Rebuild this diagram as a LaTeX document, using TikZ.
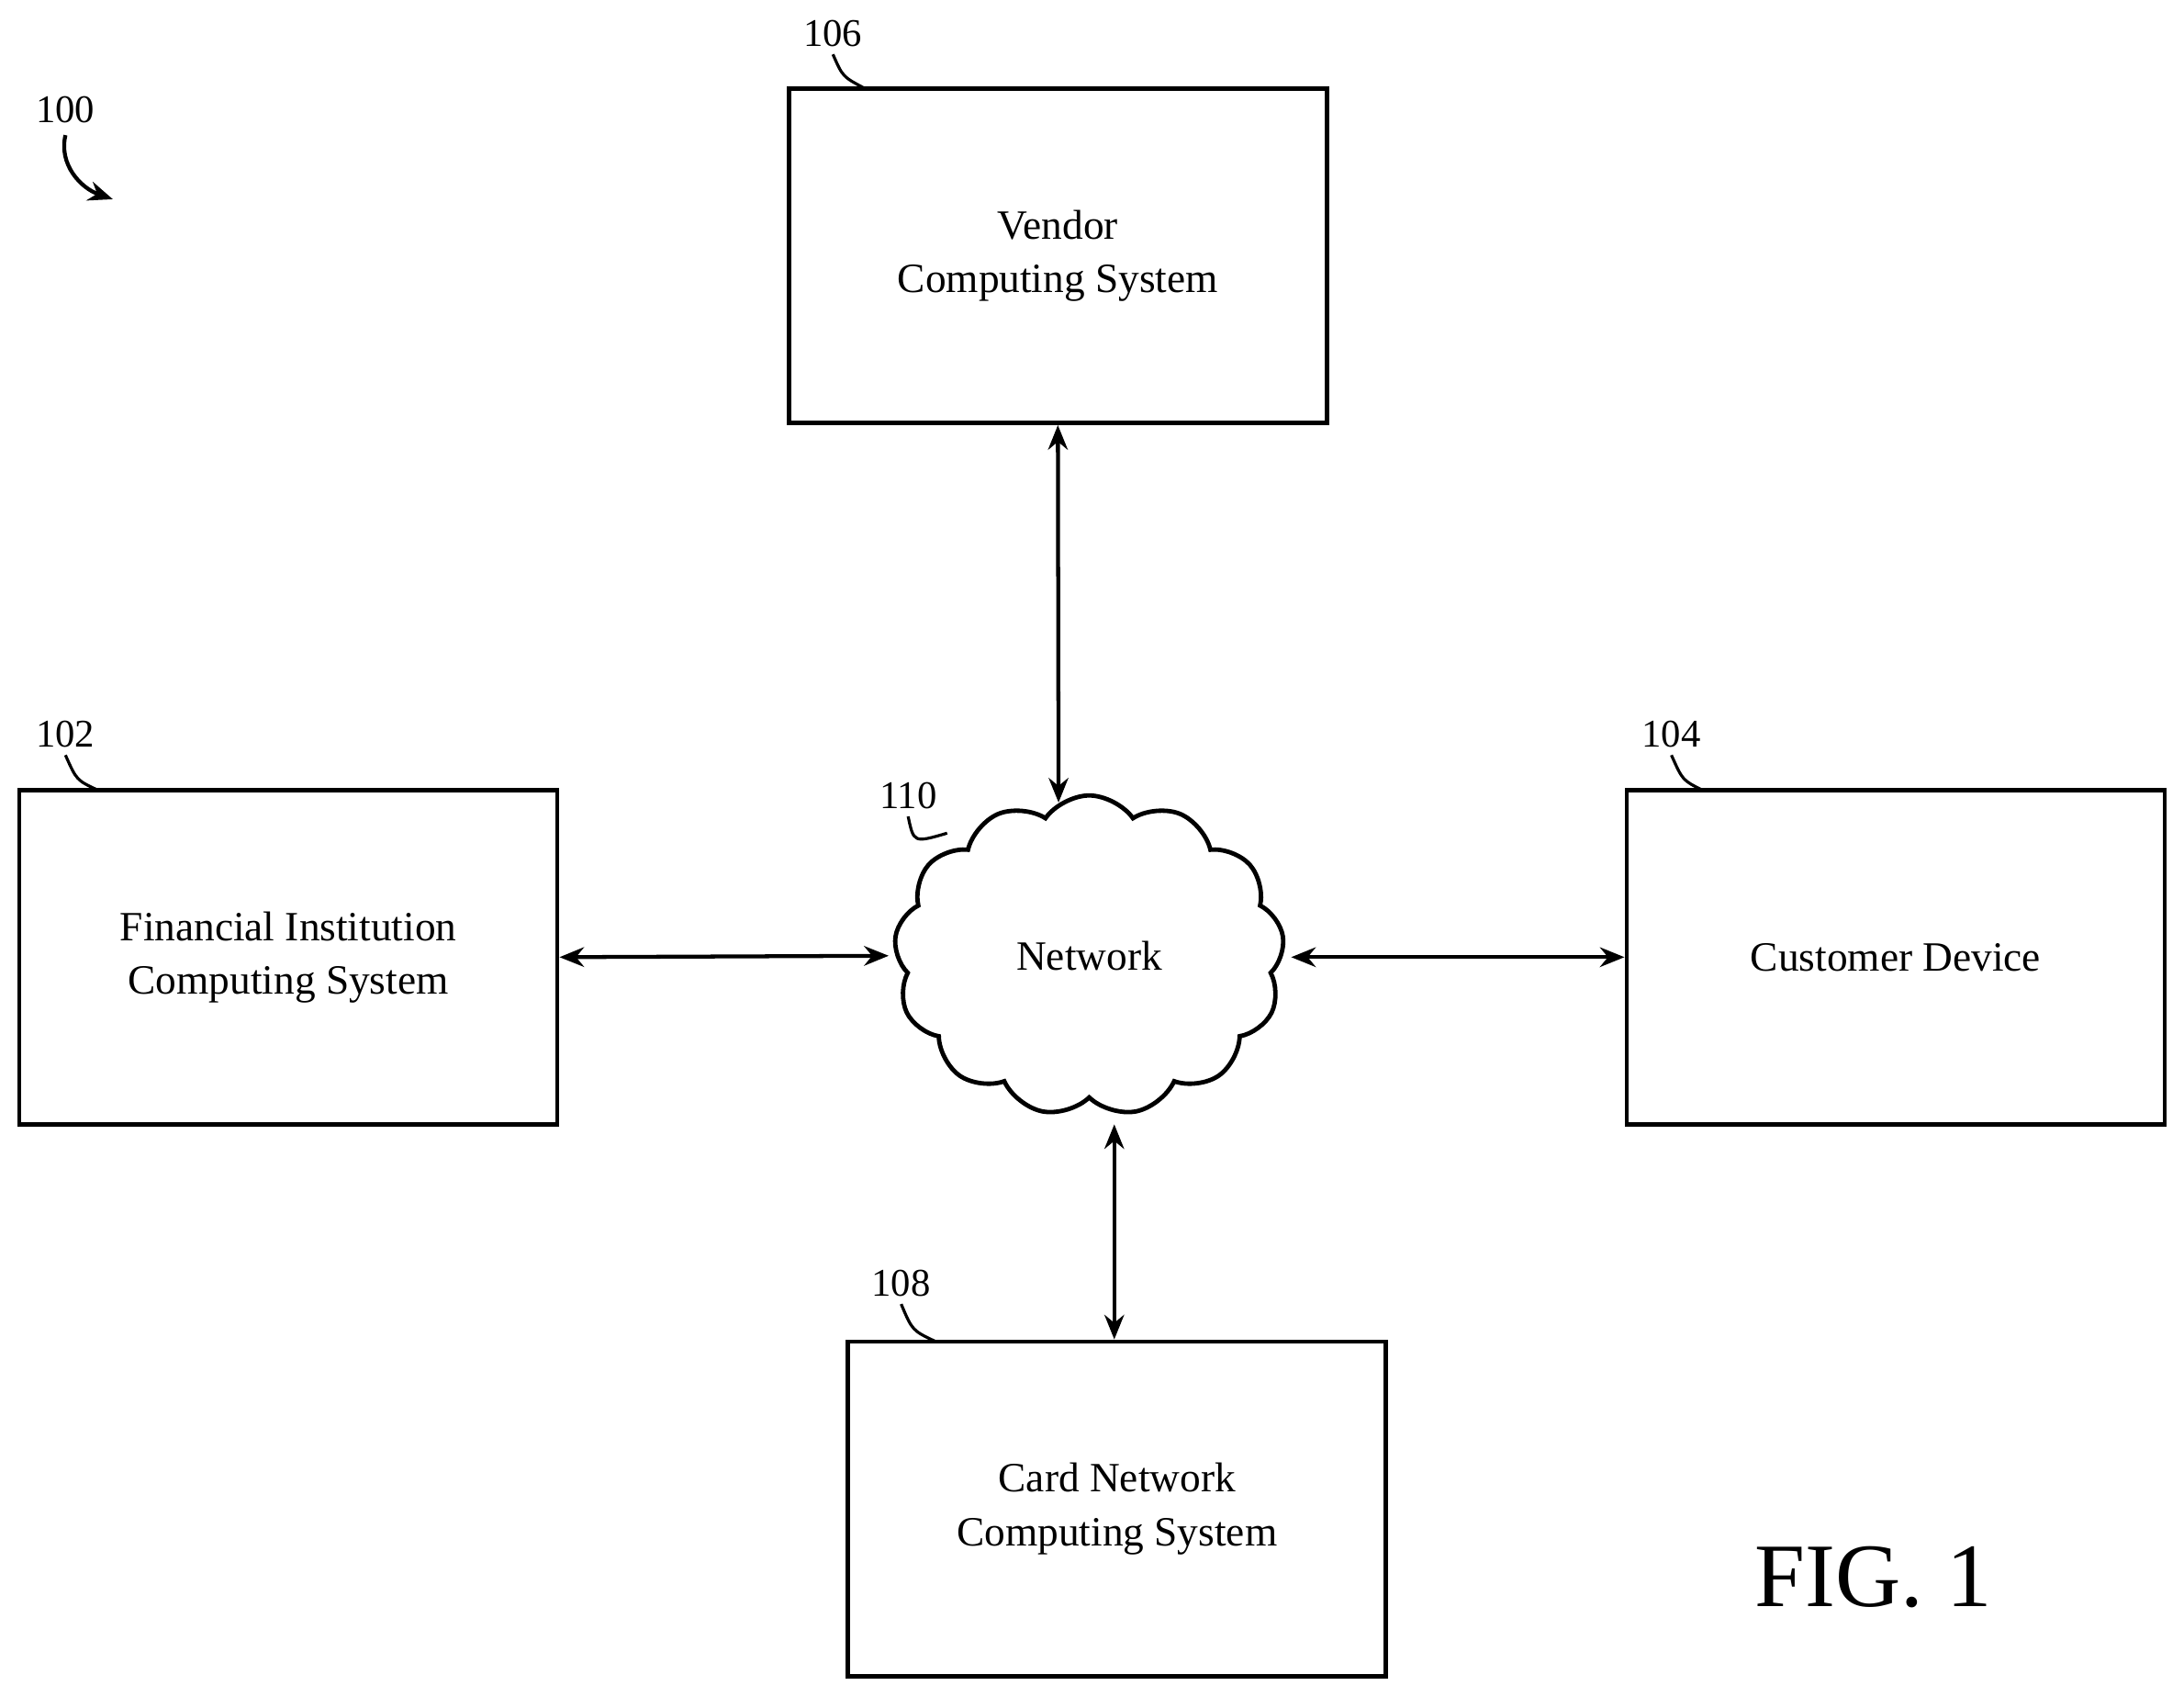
\documentclass[tikz,border=0pt]{standalone}
\usepackage{fontspec}
\setmainfont{Liberation Serif}
\usetikzlibrary{shapes.symbols,arrows.meta}
\begin{document}
\begin{tikzpicture}[x=0.01cm,y=-0.01cm,
  box/.style={draw,line width=0.9pt,minimum width=3.86cm,minimum height=2.4cm,align=center,font=\fontsize{8.5}{10.9}\selectfont},
  lbl/.style={font=\fontsize{8}{10}\selectfont},
  conn/.style={line width=0.8pt,{Stealth[length=5pt,width=4pt]}-{Stealth[length=5pt,width=4pt]}},
  lead/.style={line width=0.6pt}]
\useasboundingbox (0,0) rectangle (1568,1218);
\node[box] (ven) at (759.5,183.5) {Vendor\\Computing System};
\node[box] (fi) at (207,687) {Financial Institution\\Computing System};
\node[box] (cd) at (1361,687) {Customer Device};
\node[box] (cn) at (802,1083) {Card Network\\Computing System};
\node[cloud,draw,line width=0.9pt,cloud puffs=13,cloud puff arc=110,aspect=1.1,minimum width=2.8cm,minimum height=2.3cm,font=\fontsize{8.5}{10.9}\selectfont] (net) at (782,686) {Network};
\coordinate (nt) at (760,576);
\coordinate (nb) at (800,807);
\coordinate (nl) at (638,686);
\coordinate (nr) at (927,687);
\draw[conn] (ven.south) -- (nt);
\draw[conn] (fi.east) -- (nl);
\draw[conn] (nr) -- (cd.west |- nr);
\draw[conn] (nb) -- (cn.north -| nb);
\node[lbl] (l106) at (598,24) {106};
\node[lbl] (l102) at (47,527) {102};
\node[lbl] (l104) at (1200,527) {104};
\node[lbl] (l108) at (647,921) {108};
\node[lbl] (l110) at (652,571) {110};
\node[lbl] (l100) at (47,79) {100};
\coordinate (c106) at (620,63);
\coordinate (c102) at (70,567);
\coordinate (c104) at (1222,567);
\coordinate (c108) at (672,963);
\coordinate (c110) at (680,598);
\coordinate (a100) at (81,143);
\draw[lead] (598,39) .. controls (605,55) .. (c106);
\draw[lead] (47,542) .. controls (55,560) .. (c102);
\draw[lead] (1200,542) .. controls (1208,560) .. (c104);
\draw[lead] (647,936) .. controls (655,955) .. (c108);
\draw[lead] (652,586) .. controls (656,605) .. (c110);
\draw[line width=0.8pt,-{Stealth[length=5pt,width=4pt]}] (47,97) .. controls (42,118) and (58,135) .. (a100);
\node[font=\fontsize{18.5}{22}\selectfont] (fig) at (1345,1132) {FIG. 1};
\end{tikzpicture}
\end{document}
